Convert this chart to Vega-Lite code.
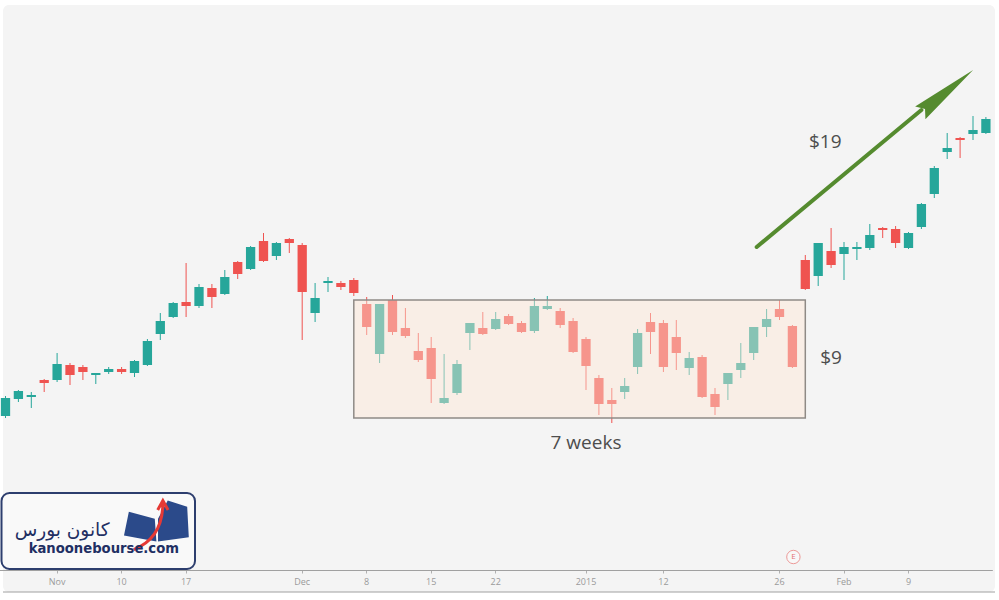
{
  "$schema": "https://vega.github.io/schema/vega-lite/v6.json",
  "width": 992,
  "height": 587,
  "autosize": {"type": "none"},
  "padding": {"left": 3, "top": 5, "right": 4, "bottom": 8},
  "background": "#ffffff",
  "config": {
    "view": {"stroke": null, "fill": "#f4f4f4", "cornerRadius": 6}
  },
  "datasets": {
    "candles": [
      {"date": "2014-10-28", "open": 105.16, "high": 106.76, "low": 105.00, "close": 106.60},
      {"date": "2014-10-29", "open": 106.52, "high": 107.24, "low": 106.28, "close": 107.16},
      {"date": "2014-10-30", "open": 106.68, "high": 107.08, "low": 105.80, "close": 106.84},
      {"date": "2014-10-31", "open": 108.04, "high": 108.12, "low": 107.08, "close": 107.80},
      {"date": "2014-11-03", "open": 108.04, "high": 110.20, "low": 107.88, "close": 109.32},
      {"date": "2014-11-04", "open": 109.24, "high": 109.40, "low": 107.64, "close": 108.44},
      {"date": "2014-11-05", "open": 109.08, "high": 109.24, "low": 108.04, "close": 108.68},
      {"date": "2014-11-06", "open": 108.44, "high": 108.60, "low": 107.72, "close": 108.60},
      {"date": "2014-11-07", "open": 108.68, "high": 109.08, "low": 108.52, "close": 108.92},
      {"date": "2014-11-10", "open": 108.92, "high": 109.08, "low": 108.52, "close": 108.68},
      {"date": "2014-11-11", "open": 108.60, "high": 109.64, "low": 108.28, "close": 109.56},
      {"date": "2014-11-12", "open": 109.24, "high": 111.32, "low": 109.16, "close": 111.16},
      {"date": "2014-11-13", "open": 111.72, "high": 113.40, "low": 111.24, "close": 112.76},
      {"date": "2014-11-14", "open": 113.08, "high": 114.28, "low": 113.00, "close": 114.20},
      {"date": "2014-11-17", "open": 114.28, "high": 117.40, "low": 113.08, "close": 113.96},
      {"date": "2014-11-18", "open": 113.96, "high": 115.72, "low": 113.80, "close": 115.48},
      {"date": "2014-11-19", "open": 115.40, "high": 115.72, "low": 113.80, "close": 114.68},
      {"date": "2014-11-20", "open": 114.92, "high": 116.84, "low": 114.84, "close": 116.28},
      {"date": "2014-11-21", "open": 117.48, "high": 117.56, "low": 116.12, "close": 116.52},
      {"date": "2014-11-24", "open": 116.92, "high": 118.76, "low": 116.84, "close": 118.68},
      {"date": "2014-11-25", "open": 119.16, "high": 119.80, "low": 117.48, "close": 117.56},
      {"date": "2014-11-26", "open": 117.96, "high": 119.08, "low": 117.64, "close": 119.00},
      {"date": "2014-11-28", "open": 119.32, "high": 119.40, "low": 118.20, "close": 119.00},
      {"date": "2014-12-01", "open": 118.84, "high": 119.00, "low": 111.24, "close": 115.08},
      {"date": "2014-12-02", "open": 113.40, "high": 115.80, "low": 112.68, "close": 114.60},
      {"date": "2014-12-03", "open": 115.80, "high": 116.28, "low": 115.08, "close": 115.96},
      {"date": "2014-12-04", "open": 115.80, "high": 115.96, "low": 115.24, "close": 115.48},
      {"date": "2014-12-05", "open": 116.04, "high": 116.20, "low": 114.76, "close": 115.00},
      {"date": "2014-12-08", "open": 114.12, "high": 114.68, "low": 111.64, "close": 112.28},
      {"date": "2014-12-09", "open": 110.12, "high": 114.12, "low": 109.40, "close": 114.12},
      {"date": "2014-12-10", "open": 114.44, "high": 114.84, "low": 111.64, "close": 111.88},
      {"date": "2014-12-11", "open": 112.20, "high": 113.80, "low": 111.40, "close": 111.56},
      {"date": "2014-12-12", "open": 110.36, "high": 111.80, "low": 109.48, "close": 109.64},
      {"date": "2014-12-15", "open": 110.60, "high": 111.48, "low": 106.20, "close": 108.12},
      {"date": "2014-12-16", "open": 106.20, "high": 110.12, "low": 106.12, "close": 106.60},
      {"date": "2014-12-17", "open": 107.00, "high": 109.64, "low": 106.84, "close": 109.32},
      {"date": "2014-12-18", "open": 111.80, "high": 112.60, "low": 110.44, "close": 112.60},
      {"date": "2014-12-19", "open": 112.20, "high": 113.48, "low": 111.64, "close": 111.72},
      {"date": "2014-12-22", "open": 112.12, "high": 113.48, "low": 112.04, "close": 112.92},
      {"date": "2014-12-23", "open": 113.16, "high": 113.32, "low": 112.44, "close": 112.52},
      {"date": "2014-12-24", "open": 112.60, "high": 112.76, "low": 111.80, "close": 111.88},
      {"date": "2014-12-26", "open": 111.96, "high": 114.60, "low": 111.80, "close": 113.96},
      {"date": "2014-12-29", "open": 113.72, "high": 114.76, "low": 113.64, "close": 113.96},
      {"date": "2014-12-30", "open": 113.56, "high": 113.80, "low": 112.20, "close": 112.44},
      {"date": "2014-12-31", "open": 112.76, "high": 113.00, "low": 110.20, "close": 110.28},
      {"date": "2015-01-02", "open": 111.32, "high": 111.48, "low": 107.24, "close": 109.16},
      {"date": "2015-01-05", "open": 108.20, "high": 108.44, "low": 105.24, "close": 106.12},
      {"date": "2015-01-06", "open": 106.44, "high": 107.40, "low": 104.60, "close": 106.12},
      {"date": "2015-01-07", "open": 107.08, "high": 108.20, "low": 106.52, "close": 107.56},
      {"date": "2015-01-08", "open": 109.08, "high": 112.12, "low": 108.52, "close": 111.80},
      {"date": "2015-01-09", "open": 112.68, "high": 113.40, "low": 110.12, "close": 111.88},
      {"date": "2015-01-12", "open": 112.60, "high": 112.84, "low": 108.68, "close": 109.08},
      {"date": "2015-01-13", "open": 111.48, "high": 112.84, "low": 108.84, "close": 110.20},
      {"date": "2015-01-14", "open": 109.00, "high": 110.28, "low": 108.44, "close": 109.80},
      {"date": "2015-01-15", "open": 109.88, "high": 110.04, "low": 106.60, "close": 106.68},
      {"date": "2015-01-16", "open": 106.92, "high": 107.40, "low": 105.24, "close": 105.88},
      {"date": "2015-01-20", "open": 107.72, "high": 108.60, "low": 106.44, "close": 108.60},
      {"date": "2015-01-21", "open": 108.84, "high": 111.00, "low": 108.20, "close": 109.40},
      {"date": "2015-01-22", "open": 110.20, "high": 112.28, "low": 109.64, "close": 112.28},
      {"date": "2015-01-23", "open": 112.28, "high": 113.72, "low": 111.48, "close": 112.92},
      {"date": "2015-01-26", "open": 113.72, "high": 114.44, "low": 112.84, "close": 113.08},
      {"date": "2015-01-27", "open": 112.36, "high": 112.44, "low": 109.00, "close": 109.08},
      {"date": "2015-01-28", "open": 117.64, "high": 118.04, "low": 115.24, "close": 115.32},
      {"date": "2015-01-29", "open": 116.36, "high": 119.00, "low": 115.56, "close": 119.00},
      {"date": "2015-01-30", "open": 118.36, "high": 120.20, "low": 117.00, "close": 117.24},
      {"date": "2015-02-02", "open": 118.12, "high": 119.08, "low": 116.04, "close": 118.68},
      {"date": "2015-02-03", "open": 118.52, "high": 119.08, "low": 117.64, "close": 118.68},
      {"date": "2015-02-04", "open": 118.60, "high": 120.52, "low": 118.44, "close": 119.64},
      {"date": "2015-02-05", "open": 120.20, "high": 120.28, "low": 119.40, "close": 120.04},
      {"date": "2015-02-06", "open": 120.12, "high": 120.36, "low": 118.60, "close": 119.00},
      {"date": "2015-02-09", "open": 118.60, "high": 119.88, "low": 118.52, "close": 119.80},
      {"date": "2015-02-10", "open": 120.28, "high": 122.20, "low": 120.12, "close": 122.12},
      {"date": "2015-02-11", "open": 122.92, "high": 125.16, "low": 122.60, "close": 125.00},
      {"date": "2015-02-12", "open": 126.28, "high": 127.80, "low": 125.72, "close": 126.60},
      {"date": "2015-02-13", "open": 127.40, "high": 127.48, "low": 125.80, "close": 127.24},
      {"date": "2015-02-17", "open": 127.72, "high": 129.16, "low": 127.24, "close": 128.04},
      {"date": "2015-02-18", "open": 127.80, "high": 129.08, "low": 127.72, "close": 128.92}
    ],
    "box": [{"date": "2014-12-05", "date2": "2015-01-28", "low": 105.0, "high": 114.44}],
    "arrow": [{"date": "2015-01-22", "date2": "2015-02-10", "price": 118.68, "price2": 129.64}],
    "arrowhead": [{"date": "2015-02-12", "price": 131.12}],
    "gain": [{"date": "2015-01-29", "price": 127.08, "text": "$19"}],
    "notes": [
      {"date": "2015-01-30", "price": 109.80, "text": "$9"},
      {"date": "2015-01-02", "price": 103.0, "text": "7 weeks"}
    ],
    "earnings": [{"date": "2015-01-27", "price": 93.88, "text": "E"}],
    "logo": [{"date": "2014-10-28", "date2": "2014-11-18", "low": 92.92, "high": 99.0}],
    "logoFa": [{"date": "2014-11-03", "price": 96.04, "text": "کانون بورس"}],
    "logoEn": [{"date": "2014-11-06", "price": 94.52, "text": "kanoonebourse.com"}],
    "logoIcon": [{"date": "2014-11-12", "price": 96.68}],
    "baseline": [{"price": 91.08}]
  },
  "encoding": {
    "x": {
      "field": "date",
      "type": "ordinal",
      "scale": {"type": "band", "range": [-3.95, 989.35], "paddingInner": 0, "paddingOuter": 0},
      "axis": {
        "values": ["2014-11-03", "2014-11-10", "2014-11-17", "2014-12-01", "2014-12-08", "2014-12-15", "2014-12-22", "2015-01-02", "2015-01-12", "2015-01-26", "2015-02-02", "2015-02-09"],
        "labelExpr": "datum.value == '2014-11-03' ? 'Nov' : datum.value == '2014-12-01' ? 'Dec' : datum.value == '2015-01-02' ? '2015' : datum.value == '2015-02-02' ? 'Feb' : '' + toNumber(substring(datum.value, 8, 10))",
        "title": null,
        "offset": -22,
        "labelAngle": 0,
        "labelFont": "Open Sans",
        "labelFontSize": 9,
        "labelColor": "#9a9a9a",
        "labelPadding": 4,
        "tickSize": 3,
        "tickColor": "#b0b0b0",
        "domainColor": "#a0a0a0",
        "grid": false
      }
    }
  },
  "layer": [
    {
      "data": {"name": "candles"},
      "mark": {"type": "rule", "strokeWidth": 1},
      "encoding": {
        "y": {"field": "low", "type": "quantitative", "scale": {"domain": [91.08, 138.04], "nice": false, "zero": false}, "axis": null},
        "y2": {"field": "high"},
        "color": {"condition": {"test": "datum.close >= datum.open", "value": "#26a69a"}, "value": "#ef5350"}
      }
    },
    {
      "data": {"name": "candles"},
      "mark": {"type": "bar", "width": {"band": 0.72}},
      "encoding": {
        "y": {"field": "open", "type": "quantitative"},
        "y2": {"field": "close"},
        "color": {"condition": {"test": "datum.close >= datum.open", "value": "#26a69a"}, "value": "#ef5350"}
      }
    },
    {
      "data": {"name": "box"},
      "mark": {"type": "rect", "fill": "#ffe6d5", "fillOpacity": 0.45, "stroke": "#8f8a86", "strokeWidth": 1.5},
      "encoding": {
        "x2": {"field": "date2"},
        "y": {"field": "low", "type": "quantitative"},
        "y2": {"field": "high"}
      }
    },
    {
      "data": {"name": "arrow"},
      "mark": {"type": "rule", "color": "#558b2f", "strokeWidth": 4, "strokeCap": "round", "xOffset": 3},
      "encoding": {
        "x2": {"field": "date2"},
        "y": {"field": "price", "type": "quantitative"},
        "y2": {"field": "price2"}
      }
    },
    {
      "data": {"name": "arrowhead"},
      "mark": {"type": "point", "shape": "M0,-1L0.24,1L0,0.82L-0.24,1Z", "size": 4624, "angle": 51, "filled": true, "color": "#558b2f", "opacity": 1, "xOffset": -0.5},
      "encoding": {
        "y": {"field": "price", "type": "quantitative"}
      }
    },
    {
      "data": {"name": "gain"},
      "mark": {"type": "text", "font": "Open Sans", "fontSize": 19, "color": "#4d4d4d", "dx": 7, "baseline": "middle"},
      "encoding": {
        "y": {"field": "price", "type": "quantitative"},
        "text": {"field": "text"}
      }
    },
    {
      "data": {"name": "notes"},
      "mark": {"type": "text", "font": "Open Sans", "fontSize": 19, "color": "#4d4d4d", "baseline": "middle"},
      "encoding": {
        "y": {"field": "price", "type": "quantitative"},
        "text": {"field": "text"}
      }
    },
    {
      "data": {"name": "earnings"},
      "mark": {"type": "point", "shape": "circle", "size": 180, "filled": false, "fill": "#f8f8f8", "stroke": "#ec9a98", "strokeWidth": 1, "opacity": 1, "xOffset": 1},
      "encoding": {
        "y": {"field": "price", "type": "quantitative"}
      }
    },
    {
      "data": {"name": "earnings"},
      "mark": {"type": "text", "font": "Open Sans", "fontSize": 8, "color": "#e57373", "baseline": "middle", "dx": 1},
      "encoding": {
        "y": {"field": "price", "type": "quantitative"},
        "text": {"field": "text"}
      }
    },
    {
      "data": {"name": "logo"},
      "mark": {"type": "rect", "fill": "#f9f9f9", "stroke": "#2d3e6e", "strokeWidth": 2, "cornerRadius": 8, "xOffset": -4, "x2Offset": -4},
      "encoding": {
        "x2": {"field": "date2"},
        "y": {"field": "low", "type": "quantitative"},
        "y2": {"field": "high"}
      }
    },
    {
      "data": {"name": "logoIcon"},
      "mark": {"type": "point", "shape": "M0,0.6L-1,0.42L-0.85,-0.32L-0.05,-0.1Z M0.05,0.6L1,0.47L0.95,-0.47L0.35,-0.66L0.05,-0.1Z", "size": 4200, "filled": true, "color": "#2b4a8a", "opacity": 1, "xOffset": 9},
      "encoding": {
        "y": {"field": "price", "type": "quantitative"}
      }
    },
    {
      "data": {"name": "logoIcon"},
      "mark": {"type": "point", "shape": "M-0.7,0.85 Q0.2,0.5 0.2,-0.6 M0.04,-0.37L0.2,-0.66L0.36,-0.37", "size": 4200, "filled": false, "stroke": "#e53935", "strokeWidth": 3, "opacity": 1, "xOffset": 9},
      "encoding": {
        "y": {"field": "price", "type": "quantitative"}
      }
    },
    {
      "data": {"name": "logoFa"},
      "mark": {"type": "text", "font": "DejaVu Sans", "fontSize": 18.5, "color": "#1f2f63", "baseline": "middle", "dx": 5},
      "encoding": {
        "y": {"field": "price", "type": "quantitative"},
        "text": {"field": "text"}
      }
    },
    {
      "data": {"name": "logoEn"},
      "mark": {"type": "text", "font": "DejaVu Sans", "fontSize": 13.2, "fontWeight": "bold", "color": "#1f2f63", "baseline": "middle", "dx": 8},
      "encoding": {
        "y": {"field": "price", "type": "quantitative"},
        "text": {"field": "text"}
      }
    },
    {
      "data": {"name": "baseline"},
      "mark": {"type": "rule", "color": "#a0a0a0", "strokeWidth": 1},
      "encoding": {
        "x": null,
        "y": {"field": "price", "type": "quantitative"}
      }
    }
  ]
}
